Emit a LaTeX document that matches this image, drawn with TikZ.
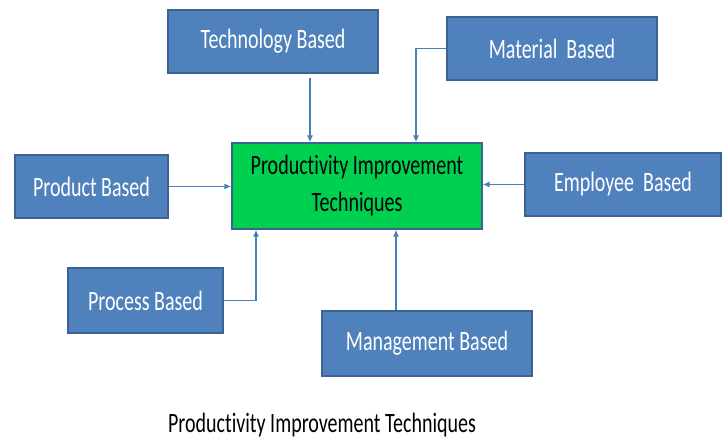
\documentclass[tikz,border=0pt]{standalone}
\usepackage{fontspec}
\setmainfont{Carlito}[Ligatures=CommonOff]
\usetikzlibrary{arrows.meta}
\definecolor{boxblue}{RGB}{79,129,189}
\definecolor{boxline}{RGB}{60,98,145}
\definecolor{linkblue}{RGB}{74,126,187}
\definecolor{mainfill}{RGB}{0,208,80}
\newcommand{\stretchtxt}[1]{\scalebox{1}[1.4]{#1}}
\tikzset{
	based/.style={rectangle,draw=boxline,fill=boxblue,line width=1.2pt,text=white,inner sep=0pt,font=\fontsize{20}{24}\selectfont},
	link/.style={draw=linkblue,line width=1.6pt,-{Latex[length=7pt,width=6pt]}}
}
\begin{document}
\begin{tikzpicture}[x=1pt,y=-1pt]
	\useasboundingbox (0,0) rectangle (723,440);
	\fill[white] (0,0) rectangle (723,440);
	\node[rectangle,draw=boxline,fill=mainfill,line width=1.2pt,minimum width=250pt,minimum height=86pt,align=center,inner sep=0pt,font=\fontsize{20}{37}\selectfont] (main) at (357,186) {\stretchtxt{Productivity Improvement}\\\stretchtxt{Techniques}};
	\node[based,minimum width=210pt,minimum height=63pt] (tech) at (273,41.5) {\stretchtxt{Technology Based}};
	\node[based,minimum width=210pt,minimum height=63pt] (mat) at (552,48.5) {\stretchtxt{Material\ \ Based}};
	\node[based,minimum width=153pt,minimum height=63pt] (prod) at (91.5,186.5) {\stretchtxt{Product Based}};
	\node[based,minimum width=196pt,minimum height=63pt] (emp) at (623,184.5) {\stretchtxt{Employee\ \ Based}};
	\node[based,minimum width=155pt,minimum height=65pt] (proc) at (145.5,300.5) {\stretchtxt{Process Based}};
	\node[based,minimum width=210pt,minimum height=65pt] (mgmt) at (427,343.5) {\stretchtxt{Management Based}};
	\node[font=\fontsize{20}{24}\selectfont] (caption) at (322,425) {\stretchtxt{Productivity Improvement Techniques}};
	\draw[link,shorten <=4pt] ([xshift=37pt]tech.south) -- ([xshift=-47pt]main.north);
	\draw[link] (mat.west) -| ([xshift=59pt]main.north);
	\draw[link] (prod.east) -- (prod.east -| main.west);
	\draw[link] (emp.west) -- (emp.west -| main.east);
	\draw[link] (proc.east) -| ([xshift=-101pt]main.south);
	\draw[link] ([xshift=-31pt]mgmt.north) -- ([xshift=39pt]main.south);
\end{tikzpicture}
\end{document}
